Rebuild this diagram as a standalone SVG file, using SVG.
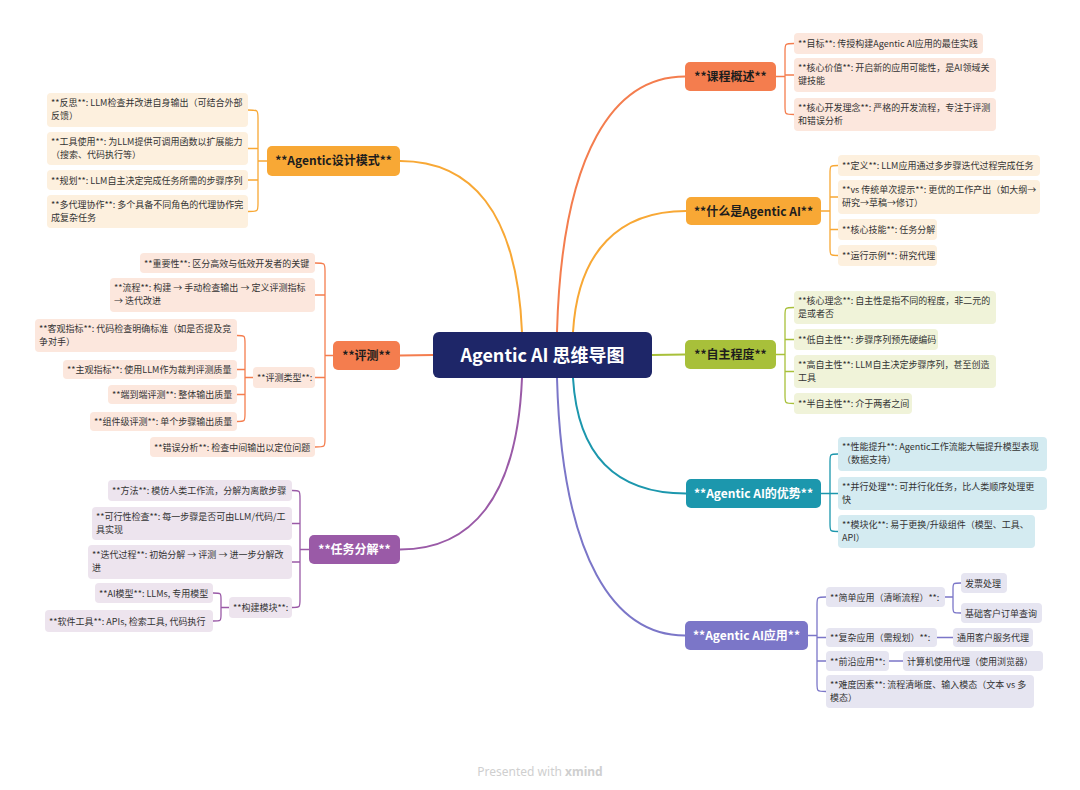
<svg xmlns="http://www.w3.org/2000/svg" width="1080" height="790" viewBox="0 0 1080 790">
<style>
text{font-family:"Noto Sans CJK SC","Noto Sans",sans-serif}
.leaf{font-size:9px;fill:#333}
.main{font-size:12px;font-weight:700;text-anchor:middle}
.dk{fill:#1d1d1d}
.wt{fill:#fff}
.c{fill:none;stroke-width:2;stroke-linecap:round}
.b{fill:none;stroke-width:1.3;stroke-linecap:round}
.o{stroke:#f47d4e}.y{stroke:#f8a835}.g{stroke:#a8c03a}.t{stroke:#1c97ad}.p{stroke:#7b76c8}.v{stroke:#9a5aa7}
.fo{fill:#fce7dd}.fy{fill:#fdf0de}.fg{fill:#f0f3d9}.ft{fill:#d4ebf1}.fp{fill:#e6e5f1}.fv{fill:#ede4ee}
</style>
<rect width="1080" height="790" fill="#fff"/>
<g id="connectors">
<path class="c o" d="M557,332 C562,150 615,76.5 685,76.5"/>
<path class="c y" d="M573,332 C578,250 620,211 686,211"/>
<path class="c g" d="M652,355 L685,354.5"/>
<path class="c t" d="M573,378 C578,460 620,493.5 686,493.5"/>
<path class="c p" d="M557,378 C562,560 615,635.5 685,635.5"/>
<path class="c y" d="M522,332 C517,210 470,161 400,161"/>
<path class="c o" d="M433,355 L400,355.5"/>
<path class="c v" d="M522,378 C517,500 470,549.5 400,549.5"/>
<path class="b o" d="M776,76.5H785 M794,43.5C785,43.5 785,43.5 785,51.5V106.5C785,114.5 785,114.5 794,114.5 M785,75H794"/>
<path class="b y" d="M821,211H830 M838,165.5C830,165.5 830,165.5 830,173.5V247.5C830,255.5 830,255.5 838,255.5 M830,197H838 M830,229.5H838"/>
<path class="b g" d="M776,354.5H785 M794,307.5C785,307.5 785,307.5 785,315.5V395.5C785,403.5 785,403.5 794,403.5 M785,339.5H794 M785,371.5H794"/>
<path class="b t" d="M821,493.5H830 M838,454C830,454 830,454 830,462V523.5C830,531.5 830,531.5 838,531.5 M830,493.5H838"/>
<path class="b p" d="M808,635.5H817 M826,597C817,597 817,597 817,605V683.5C817,691.5 817,691.5 826,691.5 M817,637.5H826 M817,661H826"/>
<path class="b p" d="M945,597H953 M961,583C953,583 953,583 953,589V607C953,613 953,613 961,613"/>
<path class="b p" d="M937,637.5H953 M889,661H903"/>
<path class="b y" d="M267,161H258 M248,110C258,110 258,110 258,118V203.5C258,211.5 258,211.5 248,211.5 M258,148.5H248 M258,180H248"/>
<path class="b o" d="M333,355.5H325 M315,263C325,263 325,263 325,271V439C325,447 325,447 315,447 M325,295H315 M325,377.5H315"/>
<path class="b o" d="M253,377.5H245 M237,335.5C245,335.5 245,335.5 245,343.5V413.5C245,421.5 245,421.5 237,421.5 M245,369.5H237 M245,394.5H237"/>
<path class="b v" d="M309,549.5H300 M292,490.5C300,490.5 300,490.5 300,498.5V599.5C300,607.5 300,607.5 292,607.5 M300,523.5H292 M300,562H292"/>
<path class="b v" d="M229,607.5H221 M213,593C221,593 221,593 221,599V615C221,621 221,621 213,621"/>
</g>
<g id="root"><rect x="433" y="332" width="219" height="46" rx="6" fill="#1e2668"/><text x="542.5" y="361.5" font-size="18" font-weight="600" fill="#fff" text-anchor="middle">Agentic AI 思维导图</text></g>

<g id="n-course"><rect x="685" y="62" width="91" height="29" rx="5" fill="#f47d4e"/><text class="main dk" x="730.5" y="80.5">**课程概述**</text></g>
<g id="n-course-1"><rect class="fo" x="794" y="33" width="189" height="21" rx="4"/><text class="leaf" x="798" y="47">**目标**: 传授构建Agentic AI应用的最佳实践</text></g>
<g id="n-course-2"><rect class="fo" x="794" y="58" width="202" height="34" rx="4"/><text class="leaf" x="798" y="71">**核心价值**: 开启新的应用可能性，是AI领域关</text><text class="leaf" x="798" y="84">键技能</text></g>
<g id="n-course-3"><rect class="fo" x="794" y="98" width="202" height="33" rx="4"/><text class="leaf" x="798" y="111">**核心开发理念**: 严格的开发流程，专注于评测</text><text class="leaf" x="798" y="124">和错误分析</text></g>

<g id="n-what"><rect x="686" y="197" width="135" height="28" rx="5" fill="#f8a835"/><text class="main dk" x="753.5" y="215.5">**什么是Agentic AI**</text></g>
<g id="n-what-1"><rect class="fy" x="838" y="155" width="202" height="21" rx="4"/><text class="leaf" x="842" y="169">**定义**: LLM应用通过多步骤迭代过程完成任务</text></g>
<g id="n-what-2"><rect class="fy" x="838" y="180" width="202" height="34" rx="4"/><text class="leaf" x="842" y="193">**vs 传统单次提示**: 更优的工作产出（如大纲→</text><text class="leaf" x="842" y="206">研究→草稿→修订）</text></g>
<g id="n-what-3"><rect class="fy" x="838" y="219" width="99" height="21" rx="4"/><text class="leaf" x="842" y="233">**核心技能**: 任务分解</text></g>
<g id="n-what-4"><rect class="fy" x="838" y="245" width="99" height="21" rx="4"/><text class="leaf" x="842" y="259">**运行示例**: 研究代理</text></g>

<g id="n-auto"><rect x="685" y="340" width="91" height="29" rx="5" fill="#a8c03a"/><text class="main dk" x="730.5" y="358.5">**自主程度**</text></g>
<g id="n-auto-1"><rect class="fg" x="794" y="291" width="202" height="33" rx="4"/><text class="leaf" x="798" y="304">**核心理念**: 自主性是指不同的程度，非二元的</text><text class="leaf" x="798" y="317">是或者否</text></g>
<g id="n-auto-2"><rect class="fg" x="794" y="329" width="144" height="21" rx="4"/><text class="leaf" x="798" y="343">**低自主性**: 步骤序列预先硬编码</text></g>
<g id="n-auto-3"><rect class="fg" x="794" y="355" width="202" height="33" rx="4"/><text class="leaf" x="798" y="368">**高自主性**: LLM自主决定步骤序列，甚至创造</text><text class="leaf" x="798" y="381">工具</text></g>
<g id="n-auto-4"><rect class="fg" x="794" y="393" width="118" height="21" rx="4"/><text class="leaf" x="798" y="407">**半自主性**: 介于两者之间</text></g>

<g id="n-adv"><rect x="686" y="479" width="135" height="29" rx="5" fill="#1c97ad"/><text class="main wt" x="753.5" y="497.5">**Agentic AI的优势**</text></g>
<g id="n-adv-1"><rect class="ft" x="838" y="437" width="209" height="34" rx="4"/><text class="leaf" x="842" y="450">**性能提升**: Agentic工作流能大幅提升模型表现</text><text class="leaf" x="842" y="463">（数据支持）</text></g>
<g id="n-adv-2"><rect class="ft" x="838" y="477" width="209" height="33" rx="4"/><text class="leaf" x="842" y="490">**并行处理**: 可并行化任务，比人类顺序处理更</text><text class="leaf" x="842" y="503">快</text></g>
<g id="n-adv-3"><rect class="ft" x="838" y="515" width="197" height="33" rx="4"/><text class="leaf" x="842" y="528">**模块化**: 易于更换/升级组件（模型、工具、</text><text class="leaf" x="842" y="541">API）</text></g>

<g id="n-app"><rect x="685" y="621" width="123" height="29" rx="5" fill="#7b76c8"/><text class="main wt" x="746.5" y="639.5">**Agentic AI应用**</text></g>
<g id="n-app-1"><rect class="fp" x="826" y="587" width="119" height="20" rx="4"/><text class="leaf" x="830" y="600.5">**简单应用（清晰流程）**:</text></g>
<g id="n-app-1a"><rect class="fp" x="961" y="573" width="46" height="20" rx="4"/><text class="leaf" x="965" y="586.5">发票处理</text></g>
<g id="n-app-1b"><rect class="fp" x="961" y="603" width="81" height="20" rx="4"/><text class="leaf" x="965" y="616.5">基础客户订单查询</text></g>
<g id="n-app-2"><rect class="fp" x="826" y="628" width="111" height="19" rx="4"/><text class="leaf" x="830" y="641">**复杂应用（需规划）**:</text></g>
<g id="n-app-2a"><rect class="fp" x="953" y="628" width="80" height="19" rx="4"/><text class="leaf" x="957" y="641">通用客户服务代理</text></g>
<g id="n-app-3"><rect class="fp" x="826" y="651" width="63" height="20" rx="4"/><text class="leaf" x="830" y="664.5">**前沿应用**:</text></g>
<g id="n-app-3a"><rect class="fp" x="903" y="651" width="140" height="20" rx="4"/><text class="leaf" x="907" y="664.5">计算机使用代理（使用浏览器）</text></g>
<g id="n-app-4"><rect class="fp" x="826" y="675" width="208" height="33" rx="4"/><text class="leaf" x="830" y="688">**难度因素**: 流程清晰度、输入模态（文本 vs 多</text><text class="leaf" x="830" y="701">模态）</text></g>

<g id="n-design"><rect x="267" y="146" width="133" height="30" rx="5" fill="#f8a835"/><text class="main dk" x="333.5" y="165">**Agentic设计模式**</text></g>
<g id="n-design-1"><rect class="fy" x="47" y="93" width="201" height="34" rx="4"/><text class="leaf" x="51" y="106">**反思**: LLM检查并改进自身输出（可结合外部</text><text class="leaf" x="51" y="119">反馈）</text></g>
<g id="n-design-2"><rect class="fy" x="47" y="132" width="201" height="33" rx="4"/><text class="leaf" x="51" y="145">**工具使用**: 为LLM提供可调用函数以扩展能力</text><text class="leaf" x="51" y="158">（搜索、代码执行等）</text></g>
<g id="n-design-3"><rect class="fy" x="47" y="170" width="201" height="20" rx="4"/><text class="leaf" x="51" y="183.5">**规划**: LLM自主决定完成任务所需的步骤序列</text></g>
<g id="n-design-4"><rect class="fy" x="47" y="195" width="201" height="33" rx="4"/><text class="leaf" x="51" y="208">**多代理协作**: 多个具备不同角色的代理协作完</text><text class="leaf" x="51" y="221">成复杂任务</text></g>

<g id="n-eval"><rect x="333" y="341" width="67" height="29" rx="5" fill="#f47d4e"/><text class="main dk" x="366.5" y="359.5">**评测**</text></g>
<g id="n-eval-1"><rect class="fo" x="140" y="253" width="175" height="20" rx="4"/><text class="leaf" x="144" y="266.5">**重要性**: 区分高效与低效开发者的关键</text></g>
<g id="n-eval-2"><rect class="fo" x="110" y="278" width="205" height="34" rx="4"/><text class="leaf" x="114" y="291">**流程**: 构建 → 手动检查输出 → 定义评测指标</text><text class="leaf" x="114" y="304">→ 迭代改进</text></g>
<g id="n-eval-3"><rect class="fo" x="253" y="367" width="62" height="21" rx="4"/><text class="leaf" x="257" y="381">**评测类型**:</text></g>
<g id="n-eval-3a"><rect class="fo" x="35" y="319" width="202" height="33" rx="4"/><text class="leaf" x="39" y="332">**客观指标**: 代码检查明确标准（如是否提及竞</text><text class="leaf" x="39" y="345">争对手）</text></g>
<g id="n-eval-3b"><rect class="fo" x="63" y="360" width="174" height="19" rx="4"/><text class="leaf" x="67" y="373">**主观指标**: 使用LLM作为裁判评测质量</text></g>
<g id="n-eval-3c"><rect class="fo" x="108" y="385" width="129" height="19" rx="4"/><text class="leaf" x="112" y="398">**端到端评测**: 整体输出质量</text></g>
<g id="n-eval-3d"><rect class="fo" x="90" y="412" width="147" height="19" rx="4"/><text class="leaf" x="94" y="425">**组件级评测**: 单个步骤输出质量</text></g>
<g id="n-eval-4"><rect class="fo" x="150" y="437" width="165" height="20" rx="4"/><text class="leaf" x="154" y="450.5">**错误分析**: 检查中间输出以定位问题</text></g>

<g id="n-task"><rect x="309" y="535" width="91" height="29" rx="5" fill="#9a5aa7"/><text class="main wt" x="354.5" y="553.5">**任务分解**</text></g>
<g id="n-task-1"><rect class="fv" x="108" y="480" width="184" height="21" rx="4"/><text class="leaf" x="112" y="494">**方法**: 模仿人类工作流，分解为离散步骤</text></g>
<g id="n-task-2"><rect class="fv" x="92" y="507" width="200" height="33" rx="4"/><text class="leaf" x="96" y="520">**可行性检查**: 每一步骤是否可由LLM/代码/工</text><text class="leaf" x="96" y="533">具实现</text></g>
<g id="n-task-3"><rect class="fv" x="88" y="545" width="204" height="34" rx="4"/><text class="leaf" x="92" y="558">**迭代过程**: 初始分解 → 评测 → 进一步分解改</text><text class="leaf" x="92" y="571">进</text></g>
<g id="n-task-4"><rect class="fv" x="229" y="597" width="63" height="21" rx="4"/><text class="leaf" x="233" y="611">**构建模块**:</text></g>
<g id="n-task-4a"><rect class="fv" x="95" y="583" width="118" height="20" rx="4"/><text class="leaf" x="99" y="596.5">**AI模型**: LLMs, 专用模型</text></g>
<g id="n-task-4b"><rect class="fv" x="45" y="610" width="168" height="22" rx="4"/><text class="leaf" x="49" y="624.5">**软件工具**: APIs, 检索工具, 代码执行</text></g>

<text x="540" y="776" font-size="12" fill="#cfcfcf" text-anchor="middle" style="font-family:'Noto Sans',sans-serif">Presented with <tspan font-weight="700">xmind</tspan></text>
</svg>
